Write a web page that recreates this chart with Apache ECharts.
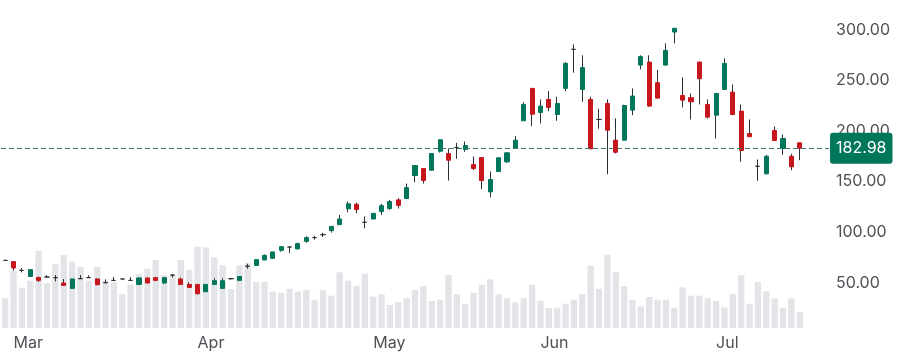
<!DOCTYPE html>
<html>
<head>
<meta charset="utf-8">
<script src="https://cdn.jsdelivr.net/npm/echarts@6/dist/echarts.min.js"></script>
<style>
html, body { margin: 0; padding: 0; background: #fff; }
#myChart { width: 923px; height: 358px; }
</style>
</head>
<body>
<div id="myChart"></div>
<script>
// trading days shown on the axis
var dates = ['2/29',
    '3/1','3/2','3/3','3/4','3/7','3/8','3/9','3/10','3/11','3/14','3/15','3/16','3/17','3/18','3/21','3/22','3/23','3/24','3/28','3/29','3/30','3/31',
    '4/1','4/4','4/5','4/6','4/7','4/8','4/11','4/12','4/13','4/14','4/15','4/18','4/19','4/20','4/21','4/22','4/25','4/26','4/27','4/28','4/29',
    '5/2','5/3','5/4','5/5','5/6','5/9','5/10','5/11','5/12','5/13','5/16','5/17','5/18','5/19','5/20','5/23','5/24','5/25','5/26','5/27',
    '6/1','6/2','6/3','6/6','6/7','6/8','6/9','6/10','6/13','6/14','6/15','6/16','6/17','6/20','6/21','6/22','6/23','6/24','6/27','6/28','6/29',
    '7/1','7/5','7/6','7/7','7/8','7/11','7/12','7/13','7/14','7/15','7/18'];
var monthNames = ['Jan','Feb','Mar','Apr','May','Jun','Jul','Aug','Sep','Oct','Nov','Dec'];

var opens = [72.1,70.8,62.2,56.2,55.2,55.6,55.0,49.7,44.4,54.0,55.0,53.7,50.0,52.3,53.7,52.3,48.3,54.7,55.0,49.7,
    57.6,53.7,48.3,48.3,41.1,48.3,44.4,54.0,52.3,66.3,67.1,72.5,74.1,82.0,85.3,83.4,90.9,94.6,97.5,101.5,
    107.4,123.0,127.5,109.7,113.0,120.3,123.3,131.9,133.2,156.0,162.9,161.2,180.0,177.7,183.7,181.7,166.8,173.8,139.8,159.9,
    169.5,182.7,210.1,242.1,218.3,231.2,216.3,242.1,280.7,241.1,231.2,211.4,227.2,190.9,190.9,220.6,265.1,268.1,247.7,265.1,
    297.8,235.1,232.9,268.1,226.2,215.6,241.1,238.4,219.6,197.5,165.1,157.6,200.5,182.7,175.0,188.3];
var closes = [72.1,64.6,62.2,62.9,52.3,55.6,55.0,47.4,53.7,54.0,55.0,48.0,50.0,52.3,53.7,52.3,54.7,49.7,52.3,55.0,
    57.6,48.3,45.4,39.1,48.3,52.0,52.0,54.0,56.2,66.3,72.8,77.0,80.4,85.6,85.3,88.6,94.6,94.6,97.5,105.7,
    113.0,128.0,122.3,109.7,118.6,126.2,130.2,126.5,144.0,165.8,151.0,177.7,191.3,171.1,183.7,185.6,162.9,151.0,152.0,173.5,
    178.4,190.9,226.2,216.6,224.6,223.3,227.2,266.8,280.7,262.6,182.4,211.4,200.8,179.0,225.2,234.5,273.5,224.6,232.5,279.7,
    301.5,230.5,228.9,251.7,213.7,237.1,266.8,216.3,180.7,194.3,165.1,175.0,190.6,192.6,164.6,182.98];
var lows = [71.9,61.9,60.2,56.0,50.7,55.4,51.3,47.0,44.0,53.8,54.8,47.5,49.8,52.1,53.6,52.1,48.0,49.3,52.0,49.0,
    55.2,48.0,45.0,38.5,41.0,48.0,44.0,53.0,52.0,63.9,67.0,72.2,74.0,80.7,79.4,83.0,89.6,92.6,95.2,99.5,
    107.0,119.6,118.6,103.8,112.8,117.0,122.0,123.3,133.0,149.3,148.0,161.0,178.7,151.0,172.5,179.4,161.2,142.4,134.5,159.6,
    168.5,182.5,210.0,204.8,207.4,219.6,210.1,239.4,257.6,228.9,182.0,202.2,157.2,177.7,190.7,215.6,260.9,224.0,232.0,265.0,
    286.6,223.3,211.4,226.2,212.4,192.6,241.0,215.6,169.5,194.0,150.7,157.3,189.9,176.4,161.2,171.1];
var highs = [72.3,71.0,64.6,63.2,55.9,57.5,57.6,53.7,54.0,57.6,57.3,54.5,53.3,55.6,53.8,55.6,55.3,55.0,55.6,55.6,
    57.8,55.0,50.3,48.5,48.5,54.3,54.3,54.3,56.5,68.8,73.0,78.0,80.6,85.8,85.6,89.6,95.8,96.5,99.5,106.0,
    117.0,130.2,129.2,115.6,118.8,127.9,131.9,133.5,148.0,166.0,163.2,178.0,191.5,182.7,188.3,189.6,174.8,174.2,159.9,173.8,
    178.7,194.9,228.5,242.3,231.2,239.4,233.9,268.1,285.6,274.8,233.9,222.0,231.2,212.4,226.0,242.1,274.8,274.8,260.2,286.6,
    301.7,253.0,237.1,268.5,231.2,237.5,271.8,246.0,226.2,211.4,171.8,176.4,204.5,196.5,177.4,188.5];
var volumes = [29.7,57,40.3,47.3,77.3,44.7,63.7,73,66.3,61,47.3,61,47.3,46,34,43.3,54.3,59.3,68,52.7,
    53,68,58,81.3,80.7,70.7,62.7,39,62.7,64.7,46,46,36.3,35.3,39.3,36.3,38,28.3,38,32.3,
    55.7,47.3,42,54.3,31.3,33.7,23,25.7,29.7,38,42,27,28.3,53,33.7,24.3,35.3,43.3,48.7,33.7,
    29.7,25.7,29.7,43.3,27.3,20,20.3,24.3,28.3,34,62.3,39.3,73.3,55.7,42,28.3,21.7,31,28.3,28.3,
    20.3,40.7,32.3,32.3,29.7,27,20.3,34,52.7,24.3,46,36.7,29.7,20.3,29.7,16];
var priceTicks = [50, 100, 150, 200, 250, 300];
var lastPrice = 182.98;

var upColor = '#00775b';
var downColor = '#c8161d';
var wickColor = '#2d3135';
var labelColor = '#4d5257';
var font = 'Inter';

var wickData = [], bodyData = [];
for (var i = 0; i < dates.length; i++) {
    wickData.push([opens[i], closes[i], lows[i], highs[i]]);
    bodyData.push([opens[i], closes[i], Math.min(opens[i], closes[i]), Math.max(opens[i], closes[i])]);
}

function monthOf(d) { return parseInt(d.split('/')[0], 10); }
function isMonthStart(idx) {
    return idx > 0 && idx < dates.length && monthOf(dates[idx]) !== monthOf(dates[idx - 1]);
}

var myChart = echarts.init(document.getElementById('myChart'));
myChart.setOption({
    animation: false,
    grid: [
        {left: 1, right: 94, top: 19.7, bottom: 24.7},
        {left: 1, right: 94, top: 228, bottom: 30}
    ],
    xAxis: [
        {type: 'category', gridIndex: 0, data: dates, max: dates.length + 2, boundaryGap: true,
            axisLine: {show: false}, axisTick: {show: false}, axisLabel: {show: false}, splitLine: {show: false}},
        {type: 'category', gridIndex: 1, data: dates, max: dates.length + 2, boundaryGap: true,
            axisLine: {show: false}, axisTick: {show: false}, splitLine: {show: false},
            axisLabel: {
                interval: function (idx) { return isMonthStart(idx); },
                formatter: function (val) { return monthNames[monthOf(val) - 1]; },
                align: 'left', margin: 7, color: labelColor, fontSize: 16, fontFamily: font
            }}
    ],
    yAxis: [
        {type: 'value', gridIndex: 0, position: 'right', min: 0, max: 310, interval: 50,
            axisLine: {show: false}, axisTick: {show: false}, splitLine: {show: false},
            axisLabel: {
                margin: 7, color: labelColor, fontSize: 16, fontFamily: font,
                formatter: function (v) { return priceTicks.indexOf(v) >= 0 ? v.toFixed(2) : ''; }
            }},
        {type: 'value', gridIndex: 1, min: 0, max: 100, show: false}
    ],
    series: [
        {name: 'volume', type: 'bar', xAxisIndex: 1, yAxisIndex: 1, data: volumes, barWidth: '76%',
            silent: true, itemStyle: {color: '#e2e4e7'}},
        {name: 'wick', type: 'candlestick', xAxisIndex: 0, yAxisIndex: 0, data: wickData, barWidth: 1,
            silent: true,
            itemStyle: {color: wickColor, color0: wickColor, borderColor: wickColor, borderColor0: wickColor,
                borderColorDoji: wickColor, borderWidth: 1}},
        {name: 'price', type: 'candlestick', xAxisIndex: 0, yAxisIndex: 0, data: bodyData, barWidth: '54%',
            silent: true,
            itemStyle: {color: upColor, color0: downColor, borderColor: upColor, borderColor0: downColor,
                borderColorDoji: wickColor, borderWidth: 1},
            markLine: {
                symbol: ['none', 'none'], silent: true, animation: false,
                lineStyle: {color: '#3f7a6a', type: [5, 3], width: 1},
                label: {
                    position: 'end', distance: 1, formatter: lastPrice.toFixed(2),
                    color: '#fff', backgroundColor: upColor, borderRadius: 3, padding: [8, 6, 7, 6],
                    fontSize: 16, fontFamily: font
                },
                data: [{yAxis: lastPrice}]
            }}
    ]
});
window.onresize = myChart.resize;
</script>
</body>
</html>
